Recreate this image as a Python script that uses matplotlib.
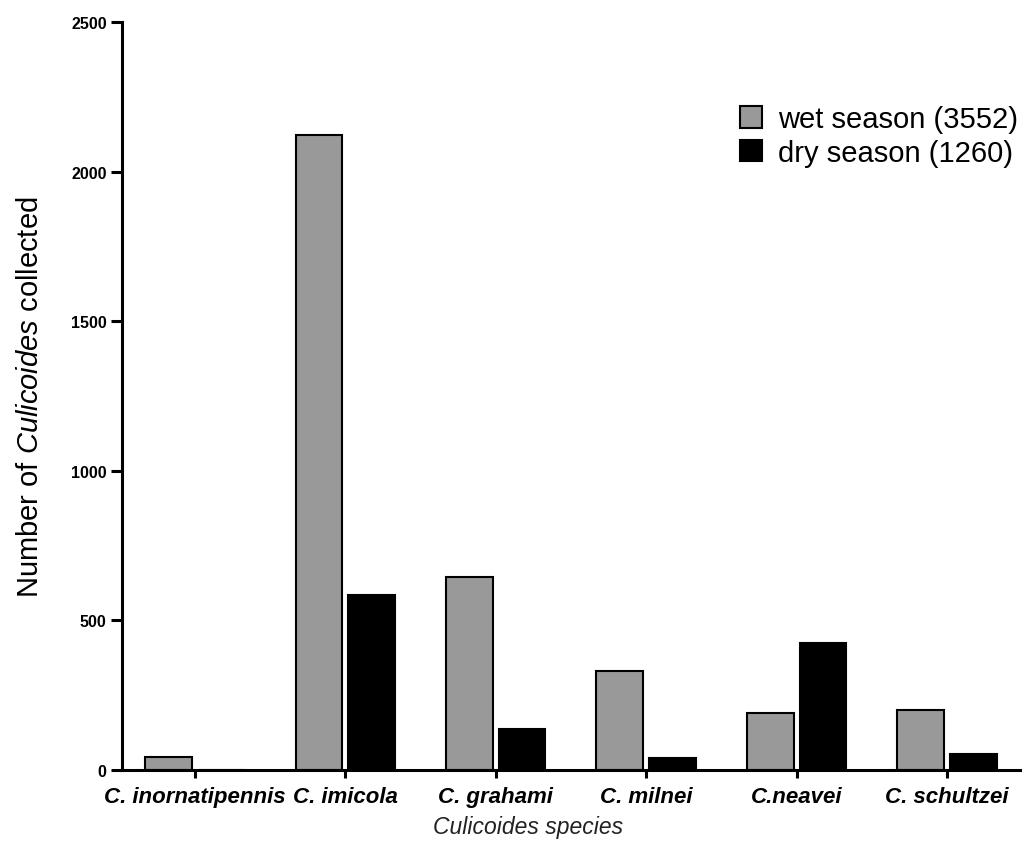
import matplotlib
matplotlib.use("Agg")
import matplotlib.pyplot as plt
from matplotlib.patches import Patch
import numpy as np

plt.rcParams['font.family'] = ['Liberation Sans', 'DejaVu Sans']
plt.rcParams['mathtext.fontset'] = 'custom'
plt.rcParams['mathtext.rm'] = 'Liberation Sans'
plt.rcParams['mathtext.it'] = 'Liberation Sans:italic'

species = ["C. inornatipennis", "C. imicola", "C. grahami", "C. milnei", "C.neavei", "C. schultzei"]
wet = [41, 2124, 645, 331, 189, 200]
dry = [0, 585, 137, 40, 423, 52]
wet_label = "wet season (3552)"
dry_label = "dry season (1260)"
yticks = [0, 500, 1000, 1500, 2000, 2500]

fig = plt.figure(figsize=(10.25, 8.45), dpi=100)
ax = fig.add_axes([0.119, 0.0879, 0.876, 0.8845])

x = np.arange(len(species))
w = 0.31
off = 0.175
ax.bar(x - off, wet, width=w, color="#999999", edgecolor="black", linewidth=1.5)
ax.bar(x + off, dry, width=w, color="black", edgecolor="black", linewidth=1.5)

ax.set_xlim(-0.485, len(species) - 1 + 0.485)
ax.set_ylim(0, 2500)
ax.set_yticks(yticks)
ax.set_yticklabels([str(t) for t in yticks], fontsize=11.5, fontweight="bold")
ax.set_xticks(x)
ax.set_xticklabels(species, fontsize=16, fontweight="bold", style="italic")

for s in ["top", "right"]:
    ax.spines[s].set_visible(False)
for s in ["left", "bottom"]:
    ax.spines[s].set_linewidth(2.2)
ax.tick_params(axis="y", length=8, width=2.2, pad=3)
ax.tick_params(axis="x", length=6, width=2.2, pad=6)

fig.text(30 / 1025, 1 - 397 / 845, r"Number of $\it{Culicoides}$ collected",
         rotation=90, ha="center", va="center", fontsize=21)
fig.text(528 / 1025, 1 - 828 / 845, "Culicoides species", style="italic",
         ha="center", va="center", fontsize=16.5, color="#222222")

handles = [Patch(facecolor="#999999", edgecolor="black", linewidth=1.5),
           Patch(facecolor="black", edgecolor="black", linewidth=1.5)]
fig.legend(handles, [wet_label, dry_label], loc="upper right",
           bbox_to_anchor=(1018 / 1025, 1 - 106 / 845), bbox_transform=fig.transFigure,
           frameon=False, fontsize=21, handlelength=0.75, handleheight=0.75,
           handletextpad=0.55, labelspacing=0.19, borderpad=0, borderaxespad=0)

fig.savefig("out.png", dpi=100)
